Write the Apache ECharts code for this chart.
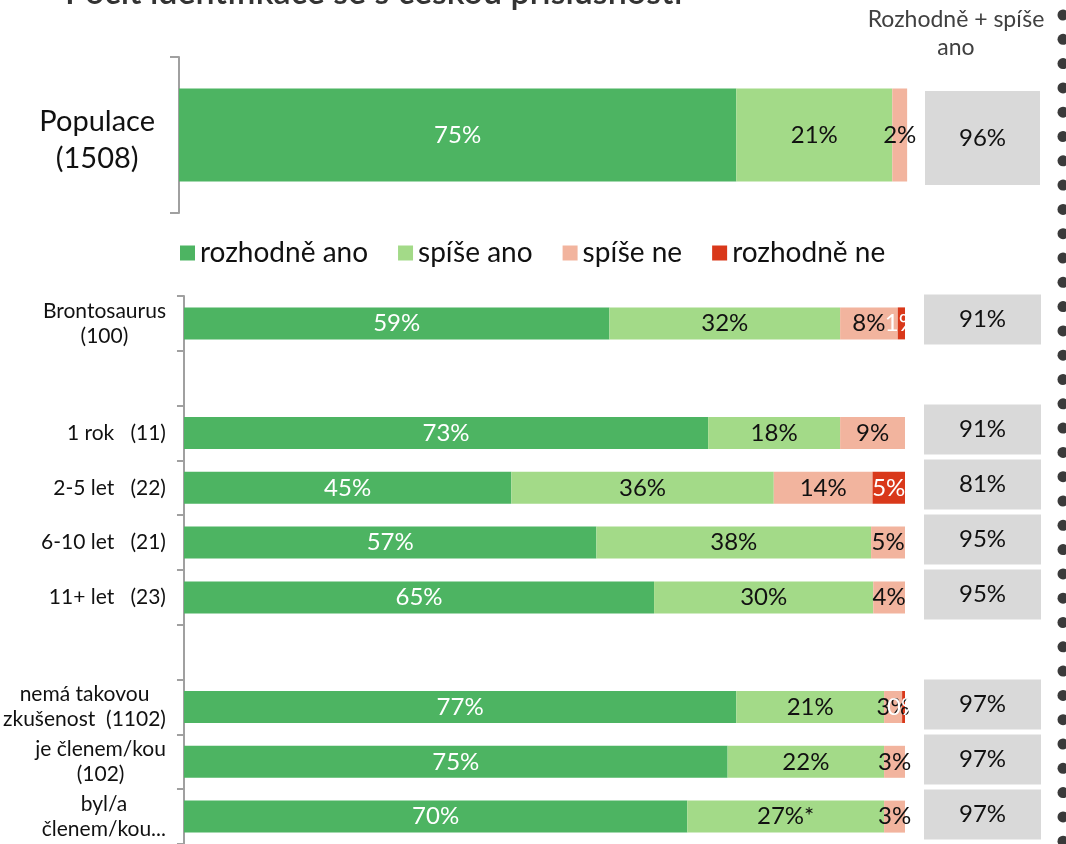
<!DOCTYPE html>
<html>
<head>
<meta charset="utf-8">
<script src="https://cdn.jsdelivr.net/npm/echarts@6/dist/echarts.min.js"></script>
<style>
  html, body { margin: 0; padding: 0; background: #fff; }
  #chart { width: 1066px; height: 844px; }
</style>
</head>
<body>
<div id="chart"></div>
<script>
const seriesNames = ['rozhodně ano', 'spíše ano', 'spíše ne', 'rozhodně ne'];
const seriesColors = ['#4db462', '#a3da88', '#f2b49e', '#d9381a'];
const labelColors = ['#fff', '#111', '#111', '#fff'];

// upper block: whole population
const upperCategories = ['Populace\n(1508)'];
const upperRozhodneAno = [75];
const upperSpiseAno = [21];
const upperSpiseNe = [2];
const upperRozhodneNe = [null];
const upperSum = [96];

// lower block: subgroups (blank categories are gaps)
const lowerCategories = [
  'Brontosaurus\n(100)', ' ', '1 rok   (11)', '2-5 let   (22)', '6-10 let   (21)', '11+ let   (23)', '  ',
  'nemá takovou\nzkušenost  (1102)', 'je členem/kou\n(102)', 'byl/a\nčlenem/kou...'
];
const lowerRozhodneAno = [59.0, null, 72.7, 45.4, 57.2, 65.2, null, 76.6, 75.4, 69.8];
const lowerSpiseAno = [32.0, null, 18.3, 36.4, 38.1, 30.4, null, 20.5, 21.7, 27.3];
const lowerSpiseNe = [8.0, null, 9.0, 13.7, 4.7, 4.4, null, 2.5, 2.9, 2.9];
const lowerRozhodneNe = [1.0, null, null, 4.5, null, null, null, 0.4, null, null];
const lowerSpiseAnoNote = ['', '', '', '', '', '', '', '', '', '*'];
const lowerSum = [91, null, 91, 81, 95, 95, null, 97, 97, 97];

const FONT = 'Lato';
const chart = echarts.init(document.getElementById('chart'));

function catLabel(fontSize, lineHeight, margin, padTop) {
  return {
    margin: margin,
    padding: [padTop, 0, 0, 0],
    formatter: v => v.trim() === '' ? '' : v.split('\n').map(s => '{c|' + s + '}').join('\n'),
    rich: { c: { align: 'center', fontSize: fontSize, lineHeight: lineHeight, color: '#111', fontFamily: FONT } }
  };
}

function segSeries(name, idx, data, gridIdx, stack, notes) {
  return {
    name: name,
    type: 'bar',
    stack: stack,
    xAxisIndex: gridIdx,
    yAxisIndex: gridIdx,
    barWidth: gridIdx === 0 ? 93 : 32,
    data: data,
    itemStyle: { color: seriesColors[idx] },
    label: {
      show: true,
      position: 'inside',
      color: labelColors[idx],
      fontSize: 24,
      fontFamily: FONT,
      formatter: p => p.value == null ? '' : Math.round(p.value) + '%' + (notes ? notes[p.dataIndex] : '')
    },
    emphasis: { disabled: true }
  };
}

function boxSeries(sums, gridIdx, width) {
  return {
    type: 'bar',
    xAxisIndex: gridIdx,
    yAxisIndex: gridIdx,
    barWidth: width,
    data: sums.map(v => v == null ? null : { value: 1, sum: v }),
    itemStyle: { color: '#d9d9d9' },
    label: {
      show: true,
      position: 'inside',
      color: '#111',
      fontSize: 24,
      fontFamily: FONT,
      formatter: p => p.data.sum + '%'
    },
    emphasis: { disabled: true }
  };
}

const tickStyle = { color: '#a0a0a0', width: 2 };

const dots = [];
for (let i = 0; i < 35; i++) {
  dots.push({ type: 'circle', shape: { cx: 1063, cy: 15 + i * 24.3, r: 5.5 }, style: { fill: '#3a3a3a' }, silent: true });
}

chart.setOption({
  animation: false,
  textStyle: { fontFamily: FONT },
  legend: {
    data: seriesNames,
    left: 175,
    top: 234,
    icon: 'rect',
    itemWidth: 15,
    itemHeight: 15,
    itemGap: 30,
    selectedMode: false,
    textStyle: { fontSize: 28, color: '#111', fontFamily: FONT }
  },
  graphic: [
    {
      type: 'text', left: 65, top: -24,
      style: { text: 'Pocit identifikace se s českou příslušností', font: '600 34px Lato', fill: '#333' }
    },
    {
      type: 'text', x: 956, y: 6,
      style: { text: 'Rozhodně + spíše\nano', font: '23px Lato', fill: '#404040', align: 'center', lineHeight: 28 }
    }
  ].concat(dots),
  grid: [
    { left: 179, top: 57, width: 743, height: 156 },
    { left: 183, top: 296, width: 722, height: 550 },
    { left: 925, top: 57, width: 115, height: 162 },
    { left: 924, top: 292, width: 117, height: 550 }
  ],
  xAxis: [
    { type: 'value', gridIndex: 0, min: 0, max: 100, show: false },
    { type: 'value', gridIndex: 1, min: 0, max: 100, show: false },
    { type: 'value', gridIndex: 2, min: 0, max: 1, show: false },
    { type: 'value', gridIndex: 3, min: 0, max: 1, show: false }
  ],
  yAxis: [
    {
      type: 'category', gridIndex: 0, inverse: true, data: upperCategories,
      axisLine: { show: true, lineStyle: tickStyle },
      axisTick: { show: true, alignWithLabel: false, length: 9, lineStyle: tickStyle },
      axisLabel: catLabel(29, 37, 24, 10)
    },
    {
      type: 'category', gridIndex: 1, inverse: true, data: lowerCategories,
      axisLine: { show: true, lineStyle: tickStyle },
      axisTick: { show: true, alignWithLabel: false, length: 7, lineStyle: tickStyle },
      axisLabel: catLabel(21, 25, 18, 0)
    },
    { type: 'category', gridIndex: 2, inverse: true, data: upperCategories, show: false },
    { type: 'category', gridIndex: 3, inverse: true, data: lowerCategories, show: false }
  ],
  series: [
    segSeries(seriesNames[0], 0, upperRozhodneAno, 0, 'up'),
    segSeries(seriesNames[1], 1, upperSpiseAno, 0, 'up'),
    segSeries(seriesNames[2], 2, upperSpiseNe, 0, 'up'),
    segSeries(seriesNames[3], 3, upperRozhodneNe, 0, 'up'),
    segSeries(seriesNames[0], 0, lowerRozhodneAno, 1, 'low'),
    segSeries(seriesNames[1], 1, lowerSpiseAno, 1, 'low', lowerSpiseAnoNote),
    segSeries(seriesNames[2], 2, lowerSpiseNe, 1, 'low'),
    segSeries(seriesNames[3], 3, lowerRozhodneNe, 1, 'low'),
    boxSeries(upperSum, 2, 94),
    boxSeries(lowerSum, 3, 50)
  ]
});

window.addEventListener('resize', () => chart.resize());
</script>
</body>
</html>
